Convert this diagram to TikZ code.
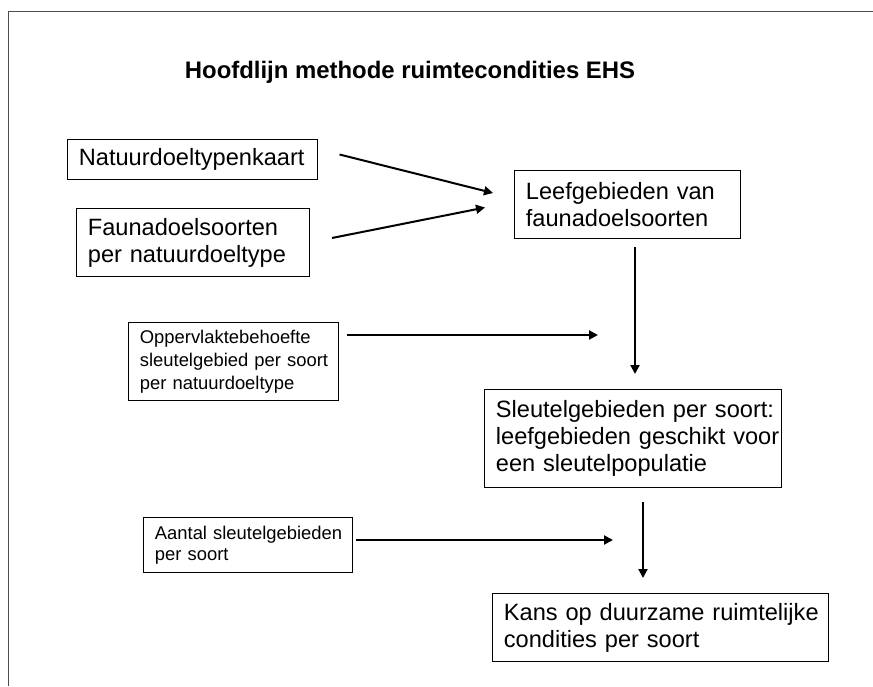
\documentclass[tikz,border=0pt]{standalone}
\usepackage{fontspec}
\setmainfont{Liberation Sans}
\usetikzlibrary{arrows.meta}

\begin{document}
\begin{tikzpicture}[->,>={Triangle[length=9pt,width=9pt]},x=1pt,y=-1pt,
  box/.style={draw,line width=0.8pt,anchor=north west,align=left,
              inner xsep=11.5pt,inner ysep=0pt,
              execute at begin node={\hyphenpenalty=10000\exhyphenpenalty=10000},
              font=\fontsize{23.6}{27}\selectfont},
  smallbox/.style={box,font=\fontsize{18.4}{23}\selectfont},
  flow/.style={draw,line width=2pt}]
\useasboundingbox (0,0) rectangle (873,686);
\draw[-,line width=1.4pt,black!70] (8.3,686) -- (8.3,11.7) -- (873,11.7);

\node[anchor=base,font=\bfseries\fontsize{23.9}{28}\selectfont] (titel) at (410,78)
      {Hoofdlijn methode ruimtecondities EHS};

\node[box,text width=227pt,minimum height=40pt] (kaart)   at (67,139)  {Natuurdoeltypenkaart};
\node[box,text width=210pt,minimum height=68pt] (fauna)   at (76,208)  {Faunadoelsoorten\\per~natuurdoeltype};
\node[box,text width=203pt,minimum height=68pt] (leef)    at (514,170) {Leefgebieden~van\\faunadoelsoorten};
\node[smallbox,text width=187pt,minimum height=78pt] (opp) at (128,322)
      {Oppervlaktebehoefte\\sleutelgebied~per~soort\\per~natuurdoeltype};
\node[box,text width=274pt,minimum height=98pt] (sleutel) at (484,389)
      {Sleutelgebieden~per~soort:\\leefgebieden~geschikt~voor\\een~sleutelpopulatie};
\node[smallbox,text width=186pt,minimum height=55pt,font=\fontsize{18.4}{21}\selectfont] (aantal) at (143,517)
      {Aantal~sleutelgebieden\\per~soort};
\node[box,text width=313pt,minimum height=68pt] (kans)    at (492,593)
      {Kans~op~duurzame~ruimtelijke\\condities~per~soort};

% losse eindpunten van de pijlen
\coordinate (kaartuit)   at (339.5,154.5);
\coordinate (faunauit)   at (332,238);
\coordinate (leefin1)    at (493,193);
\coordinate (leefin2)    at (485,207.5);
\coordinate (leefuit)    at (635,247);
\coordinate (sleutelin)  at (635,374);
\coordinate (oppuit)     at (347,335);
\coordinate (oppin)      at (598,335);
\coordinate (sleuteluit) at (643,502);
\coordinate (kansin)     at (643,578);
\coordinate (aantaluit)  at (356,540);
\coordinate (aantalin)   at (613,540);

\path (kaartuit)   edge[flow] (leefin1)
      (faunauit)   edge[flow] (leefin2)
      (leefuit)    edge[flow] (sleutelin)
      (oppuit)     edge[flow] (oppin)
      (sleuteluit) edge[flow] (kansin)
      (aantaluit)  edge[flow] (aantalin);
\end{tikzpicture}
\end{document}
